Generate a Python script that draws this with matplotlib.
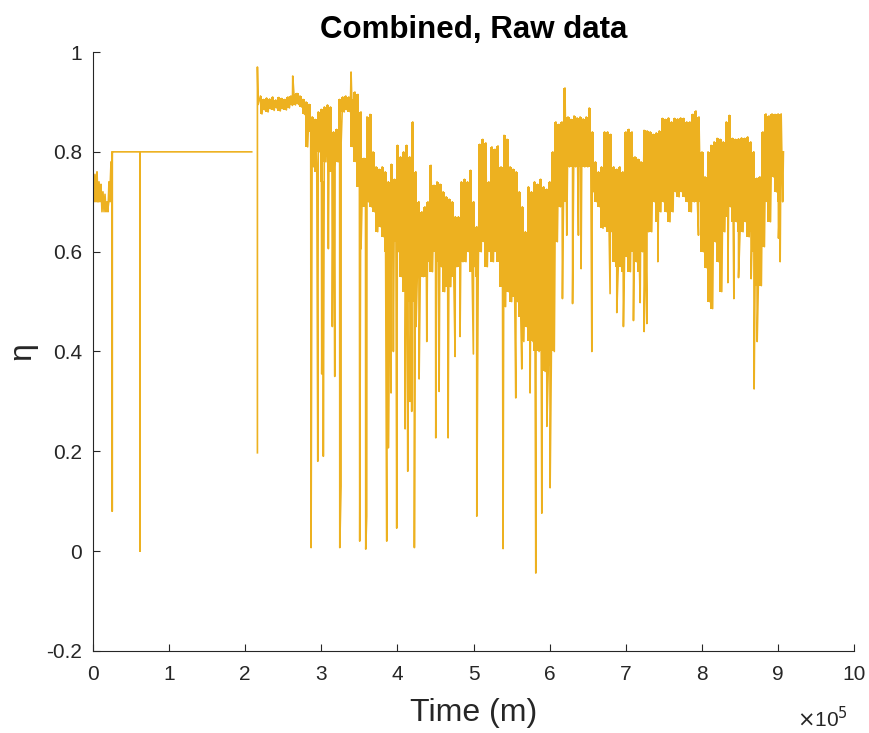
import numpy as np
import matplotlib
matplotlib.use("Agg")
import matplotlib.pyplot as plt

plt.rcParams["font.family"] = ["Liberation Sans", "DejaVu Sans"]

# start-up stretch (time in minutes, efficiency eta)
early_t = [0, 1300, 2600, 3900, 5300, 6600, 7900, 9200, 10500, 11800,
           13100, 14500, 15800, 17100, 18400, 19700, 21000, 22300, 23700, 25000]
early_eta = [0.745, 0.72, 0.755, 0.73, 0.76, 0.70, 0.74, 0.71, 0.735, 0.68,
             0.72, 0.68, 0.715, 0.68, 0.70, 0.68, 0.74, 0.72, 0.78, 0.76]

# held set-point with two drop-outs
hold_t = [25300, 25300, 25300, 61800, 61800, 61800, 208500]
hold_eta = [0.80, 0.08, 0.80, 0.80, 0.00, 0.80, 0.80]

# logging restarts after a gap
restart_t = [216000, 216000, 217000]
restart_eta = [0.197, 0.970, 0.895]

# main record: per-bin upper / lower envelope, 4000 min bins from 220000
bin_start, bin_width = 220000, 4000
eta_hi = [0.912, 0.905, 0.908, 0.906, 0.910, 0.904, 0.909, 0.907, 0.905, 0.910,
          0.912, 0.915, 0.917, 0.912, 0.905, 0.900, 0.895, 0.870, 0.865, 0.880,
          0.885, 0.890, 0.894, 0.890, 0.840, 0.845, 0.905, 0.910, 0.912, 0.910,
          0.905, 0.920, 0.915, 0.880, 0.787, 0.870, 0.875, 0.800, 0.770, 0.765,
          0.770, 0.760, 0.740, 0.775, 0.745, 0.813, 0.790, 0.800, 0.813, 0.790,
          0.860, 0.760, 0.700, 0.680, 0.690, 0.700, 0.773, 0.733, 0.740, 0.735,
          0.720, 0.710, 0.705, 0.700, 0.670, 0.670, 0.740, 0.745, 0.740, 0.763,
          0.700, 0.650, 0.815, 0.825, 0.818, 0.740, 0.810, 0.805, 0.812, 0.770,
          0.833, 0.825, 0.770, 0.765, 0.760, 0.720, 0.690, 0.640, 0.730, 0.720,
          0.740, 0.735, 0.745, 0.730, 0.725, 0.740, 0.800, 0.860, 0.855, 0.860,
          0.928, 0.870, 0.865, 0.872, 0.868, 0.870, 0.866, 0.870, 0.888, 0.840,
          0.780, 0.760, 0.770, 0.840, 0.840, 0.835, 0.770, 0.765, 0.770, 0.760,
          0.840, 0.845, 0.840, 0.790, 0.785, 0.780, 0.843, 0.842, 0.840, 0.835,
          0.838, 0.842, 0.867, 0.865, 0.868, 0.860, 0.867, 0.866, 0.868, 0.867,
          0.860, 0.860, 0.875, 0.882, 0.870, 0.800, 0.750, 0.800, 0.813, 0.820,
          0.827, 0.825, 0.820, 0.860, 0.873, 0.827, 0.825, 0.826, 0.828, 0.827,
          0.830, 0.820, 0.800, 0.747, 0.750, 0.840, 0.876, 0.872, 0.876, 0.875,
          0.876, 0.876]
eta_lo = [0.876, 0.884, 0.880, 0.886, 0.883, 0.887, 0.882, 0.886, 0.884, 0.888,
          0.893, 0.894, 0.895, 0.890, 0.875, 0.810, 0.840, 0.770, 0.760, 0.800,
          0.740, 0.780, 0.790, 0.760, 0.770, 0.780, 0.820, 0.880, 0.884, 0.880,
          0.810, 0.780, 0.730, 0.740, 0.690, 0.700, 0.690, 0.680, 0.640, 0.650,
          0.630, 0.600, 0.620, 0.600, 0.620, 0.600, 0.550, 0.520, 0.550, 0.500,
          0.500, 0.550, 0.560, 0.550, 0.550, 0.580, 0.560, 0.600, 0.580, 0.570,
          0.520, 0.530, 0.530, 0.550, 0.570, 0.570, 0.580, 0.580, 0.600, 0.560,
          0.570, 0.550, 0.600, 0.620, 0.570, 0.600, 0.580, 0.600, 0.580, 0.530,
          0.490, 0.520, 0.500, 0.510, 0.500, 0.470, 0.420, 0.450, 0.420, 0.420,
          0.400, 0.400, 0.400, 0.360, 0.360, 0.370, 0.400, 0.620, 0.690, 0.690,
          0.700, 0.770, 0.770, 0.770, 0.770, 0.770, 0.770, 0.770, 0.770, 0.720,
          0.700, 0.690, 0.647, 0.650, 0.640, 0.640, 0.580, 0.570, 0.570, 0.560,
          0.590, 0.560, 0.600, 0.580, 0.560, 0.600, 0.640, 0.640, 0.640, 0.700,
          0.660, 0.680, 0.700, 0.680, 0.660, 0.680, 0.720, 0.710, 0.720, 0.710,
          0.700, 0.680, 0.700, 0.700, 0.700, 0.600, 0.568, 0.500, 0.486, 0.620,
          0.580, 0.520, 0.640, 0.670, 0.690, 0.660, 0.660, 0.640, 0.640, 0.660,
          0.630, 0.640, 0.600, 0.532, 0.532, 0.610, 0.700, 0.660, 0.750, 0.720,
          0.700, 0.700]

# isolated excursions
spike_t = [262400, 286500, 295300, 300500, 302600, 309200, 314400, 317600, 324200, 325900,
           339000, 350400, 352100, 358300, 359600, 385900, 388000, 391600, 394600, 399000,
           410000, 413500, 416500, 418700, 422200, 424400, 428400, 438500, 450300, 454700,
           466500, 475700, 482200, 499700, 504200, 538700, 555400, 563300, 574200, 581700,
           589600, 596200, 600500, 616700, 622400, 630000, 637700, 641200, 655300, 679300,
           688100, 696800, 710000, 718800, 724000, 727600, 742000, 795400, 834000, 841900,
           848000, 864600, 868500, 872500, 900500, 902700]
spike_eta = [0.952, 0.007, 0.18, 0.355, 0.19, 0.606, 0.45, 0.35, 0.007, 0.13,
             0.96, 0.02, 0.606, 0.004, 0.07, 0.02, 0.207, 0.317, 0.40, 0.046,
             0.245, 0.16, 0.30, 0.28, 0.007, 0.45, 0.345, 0.42, 0.227, 0.32,
             0.227, 0.39, 0.43, 0.395, 0.07, 0.005, 0.307, 0.365, 0.317, -0.044,
             0.076, 0.25, 0.127, 0.506, 0.633, 0.496, 0.633, 0.566, 0.40, 0.516,
             0.478, 0.45, 0.462, 0.498, 0.44, 0.456, 0.58, 0.633, 0.538, 0.506,
             0.548, 0.546, 0.325, 0.42, 0.627, 0.58]

end_t, end_eta = 907000, 0.80

LINE = "#EDB120"
AX = "#262626"

bins = bin_start + bin_width * np.arange(len(eta_hi))


def build_series():
    bt = np.column_stack([bins, bins + bin_width / 2]).ravel()
    bv = np.column_stack([eta_hi, eta_lo]).ravel()
    mt = np.concatenate([bt, spike_t])
    mv = np.concatenate([bv, spike_eta])
    order = np.argsort(mt, kind="stable")
    t = np.concatenate([early_t, hold_t, [np.nan], restart_t, mt[order], [end_t]])
    v = np.concatenate([early_eta, hold_eta, [np.nan], restart_eta, mv[order], [end_eta]])
    return t, v


t, eta = build_series()

fig = plt.figure(figsize=(8.69, 7.33), dpi=100)
ax = fig.add_axes([0.107, 0.112, 0.876, 0.817])
# dense core of the trace, then the trace itself on top
ax.fill_between(bins, eta_lo, eta_hi, step="mid", color=LINE, lw=0)
ax.fill_between(early_t, np.minimum(early_eta, 0.70), early_eta, color=LINE, lw=0)
ax.plot(t, eta, color=LINE, lw=1.2)

ax.set_xlim(0, 1e6)
ax.set_ylim(-0.2, 1)
ax.set_xticks(np.arange(0, 1e6 + 1, 1e5))
ax.set_xticklabels([str(i) for i in range(11)])
ax.set_yticks([-0.2, 0, 0.2, 0.4, 0.6, 0.8, 1])
ax.set_yticklabels(["-0.2", "0", "0.2", "0.4", "0.6", "0.8", "1"])
for s in ["top", "right"]:
    ax.spines[s].set_visible(False)
for s in ["left", "bottom"]:
    ax.spines[s].set_color(AX)
    ax.spines[s].set_linewidth(0.8)
ax.tick_params(direction="in", length=5, width=0.8, color=AX, labelcolor=AX,
               labelsize=15)
ax.tick_params(axis="x", pad=10)
ax.tick_params(axis="y", pad=8)

ax.set_title("Combined, Raw data", fontsize=22.5, fontweight="bold", pad=10)
ax.set_xlabel("Time (m)", fontsize=23, color=AX, labelpad=10)
ax.set_ylabel("η", fontsize=23, color=AX, labelpad=6)
ax.text(0.925, -0.127, r"$\times$10$^{5}$", transform=ax.transAxes, fontsize=15,
        color=AX, ha="left", va="baseline")

fig.savefig("out.png", dpi=100)
